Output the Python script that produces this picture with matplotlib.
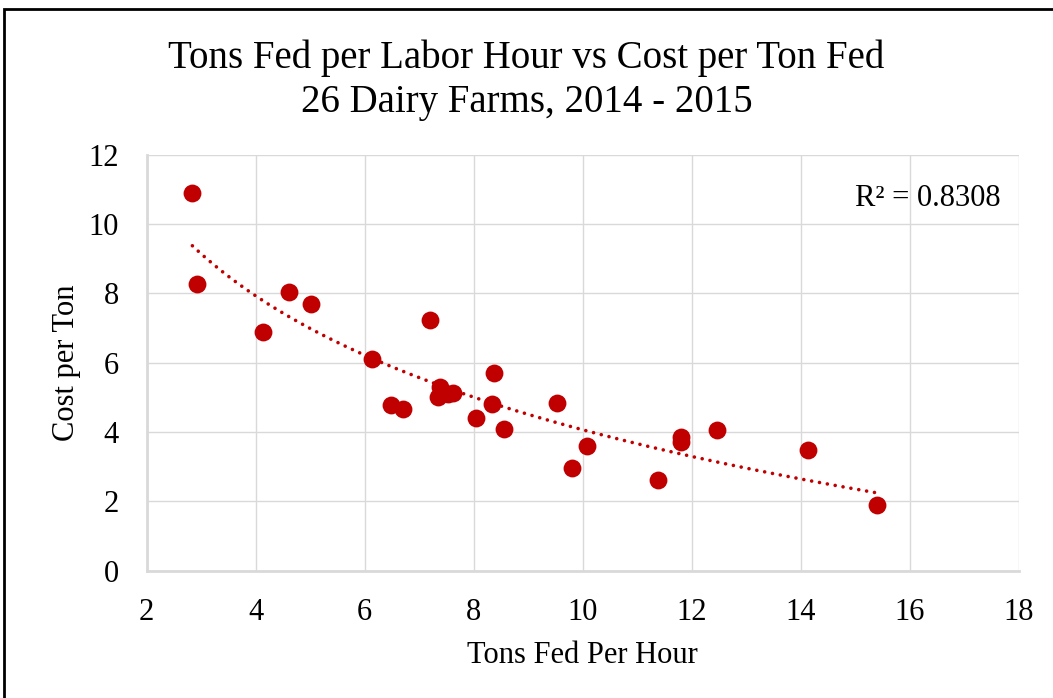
import matplotlib.pyplot as plt
import numpy as np
from matplotlib.patches import Rectangle

# data
tons_per_hour = [2.84, 2.93, 4.14, 4.62, 5.01, 6.14, 7.20, 6.49, 6.71, 7.39,
                 7.34, 7.52, 7.62, 8.37, 8.34, 8.05, 8.56, 9.53, 10.07, 9.80,
                 11.38, 11.81, 11.81, 12.46, 14.13, 15.40]
cost_per_ton = [10.89, 8.27, 6.90, 8.05, 7.69, 6.11, 7.23, 4.78, 4.67, 5.29,
                5.00, 5.10, 5.12, 5.71, 4.82, 4.42, 4.09, 4.83, 3.61, 2.97,
                2.61, 3.85, 3.71, 4.06, 3.49, 1.90]
r_squared = "0.8308"
x_ticks = [2, 4, 6, 8, 10, 12, 14, 16, 18]
y_ticks = [0, 2, 4, 6, 8, 10, 12]

plt.rcParams['font.family'] = ['Liberation Serif', 'DejaVu Serif']
red = '#c00000'
grid_col = '#d9d9d9'

fig = plt.figure(figsize=(10.53, 6.98), dpi=100)
ax = fig.add_axes([0.1392, 0.1824, 0.8285, 0.5957])

x = np.array(tons_per_hour)
y = np.array(cost_per_ton)
ax.scatter(x, y, s=165, color=red, zorder=3, linewidths=0)

# logarithmic trendline (Excel style)
a, b = np.polyfit(np.log(x), y, 1)
xs = np.linspace(x.min(), x.max(), 200)
ax.plot(xs, a * np.log(xs) + b, color=red, lw=2.6,
        linestyle=(0, (0.01, 2.2)), dash_capstyle='round', zorder=2)

ax.set_xlim(2, 18)
ax.set_ylim(0, 12)
ax.set_xticks(x_ticks)
ax.set_yticks(y_ticks)
ax.grid(True, color=grid_col, lw=1)
ax.set_axisbelow(True)
ax.tick_params(axis='x', length=0, labelsize=22, pad=20)
ax.tick_params(axis='y', length=0, labelsize=22, pad=20)
for side in ['top', 'right']:
    ax.spines[side].set_visible(False)
for side in ['left', 'bottom']:
    ax.spines[side].set_color(grid_col)
    ax.spines[side].set_linewidth(2)

ax.set_xlabel("Tons Fed Per Hour", fontsize=22, labelpad=10)
ax.set_ylabel("Cost per Ton", fontsize=22, labelpad=5)
ax.text(0.979, 0.895, "R² = " + r_squared, transform=ax.transAxes,
        ha='right', va='center', fontsize=22)

fig.text(0.5, 0.885, "Tons Fed per Labor Hour vs Cost per Ton Fed\n26 Dairy Farms, 2014 - 2015",
         ha='center', va='center', fontsize=28, linespacing=1.25)

# border around the chart area
fig.patches.append(Rectangle((0.0035, -0.05), 1.2, 0.987 + 0.05,
                             transform=fig.transFigure, fill=False,
                             edgecolor='black', lw=2))

fig.savefig("out.png", dpi=100)
